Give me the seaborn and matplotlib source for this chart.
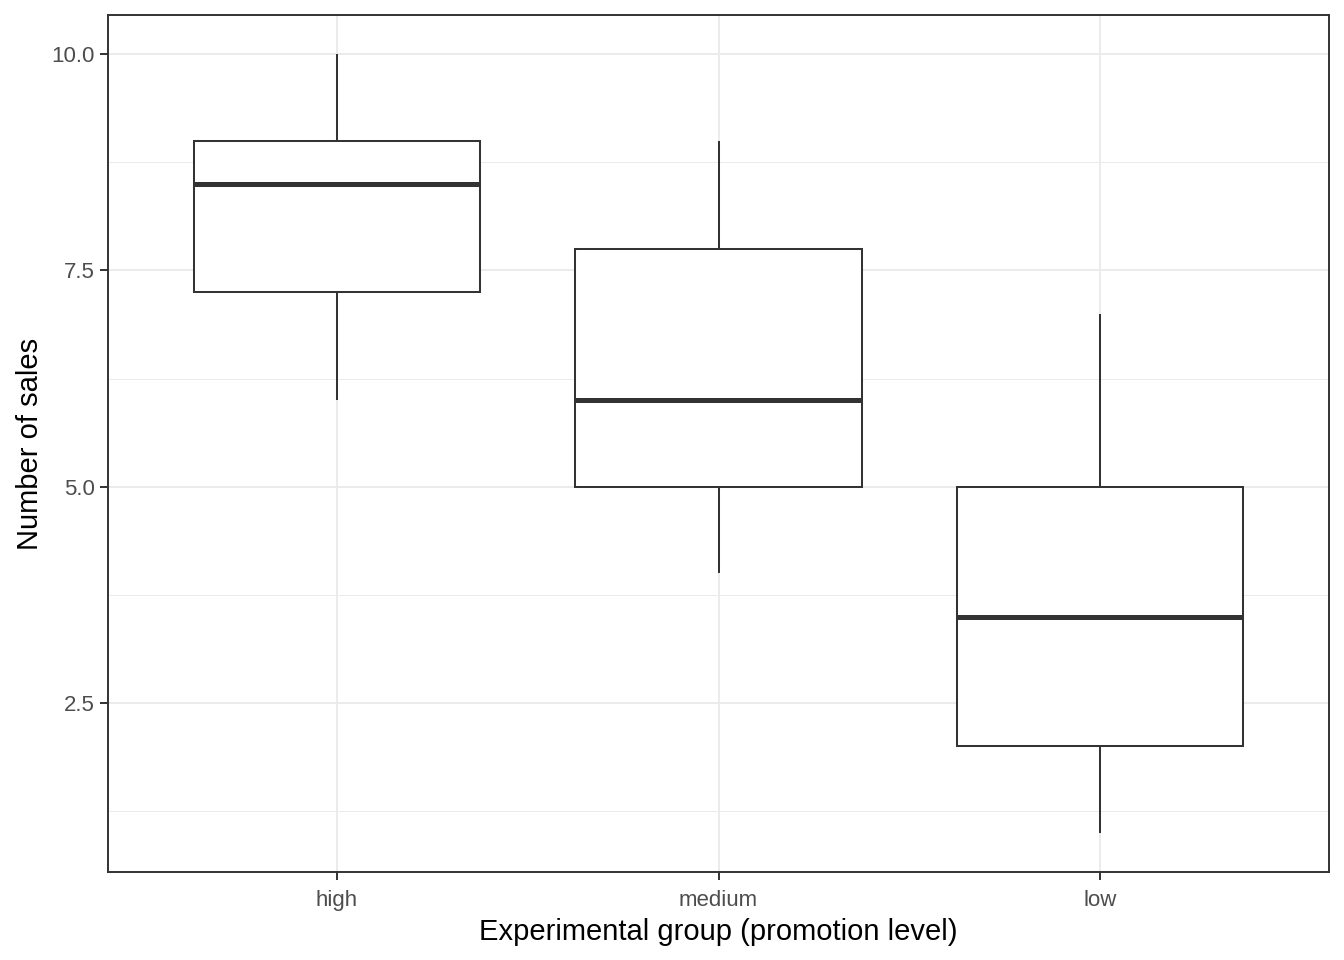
import matplotlib
matplotlib.use("Agg")
import matplotlib.pyplot as plt
import seaborn as sns
import pandas as pd
from matplotlib.ticker import MultipleLocator

groups = ["high", "medium", "low"]
high_sales = [6, 7, 8, 9, 9, 10]
medium_sales = [4, 5, 5, 7, 8, 9]
low_sales = [1, 2, 2, 5, 5, 7]

df = pd.DataFrame({
    "group": ["high"] * len(high_sales) + ["medium"] * len(medium_sales) + ["low"] * len(low_sales),
    "sales": high_sales + medium_sales + low_sales,
})

sns.set_theme(style="white")
plt.rcParams["font.family"] = ["Liberation Sans", "DejaVu Sans"]

fig = plt.figure(figsize=(13.44, 9.6), dpi=100)
ax = fig.add_axes([108 / 1344, 1 - 872 / 960, (1329 - 108) / 1344, (872 - 15) / 960])

sns.boxplot(data=df, x="group", y="sales", order=groups, ax=ax,
            color="white", linecolor="#333333", linewidth=1.45, width=0.75,
            showcaps=False, fliersize=0,
            medianprops=dict(linewidth=3.6, color="#333333"),
            boxprops=dict(facecolor="white", edgecolor="#333333"))

# grid
ax.set_axisbelow(True)
ax.yaxis.set_major_locator(MultipleLocator(2.5))
ax.yaxis.set_minor_locator(MultipleLocator(1.25))
ax.grid(False)
ax.xaxis.grid(True, which="major", color="#EBEBEB", linewidth=1.4)
ax.yaxis.grid(True, which="major", color="#EBEBEB", linewidth=1.4)
ax.yaxis.grid(True, which="minor", color="#EBEBEB", linewidth=0.7)

ax.set_xlim(-0.6, 2.6)
ax.set_ylim(0.55, 10.45)
ax.yaxis.set_major_formatter(matplotlib.ticker.FormatStrFormatter("%.1f"))

for s in ax.spines.values():
    s.set_visible(True)
    s.set_color("#333333")
    s.set_linewidth(1.4)

ax.tick_params(axis="both", which="major", direction="out", length=5.5, width=1.4,
               color="#333333", labelcolor="#4D4D4D", labelsize=16, pad=4, left=True, bottom=True)
ax.tick_params(axis="x", which="major", pad=7.5)
ax.tick_params(axis="y", which="minor", length=0, left=False)

ax.set_xlabel("Experimental group (promotion level)", fontsize=21, color="black", labelpad=5)
ax.set_ylabel("Number of sales", fontsize=21, color="black", labelpad=5)

fig.savefig("out.png", dpi=100, facecolor="white")
